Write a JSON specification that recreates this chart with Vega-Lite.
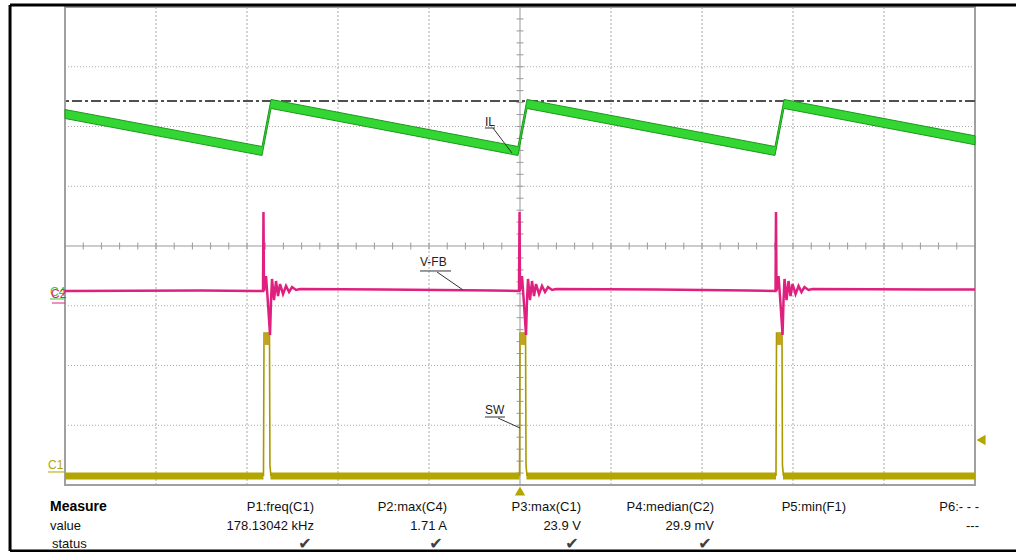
{
  "$schema": "https://vega.github.io/schema/vega-lite/v6.json",
  "width": 910,
  "height": 478,
  "autosize": {"type": "none"},
  "padding": {"left": 65, "top": 7, "right": 41, "bottom": 67},
  "background": "white",
  "config": {"view": {"stroke": "#a0a0a0", "strokeWidth": 2}, "font": "Liberation Sans"},
  "datasets": {
    "gridx": [{"x": -4}, {"x": -3}, {"x": -2}, {"x": -1}, {"x": 1}, {"x": 2}, {"x": 3}, {"x": 4}],
    "gridy": [{"y": -3}, {"y": -2}, {"y": -1}, {"y": 1}, {"y": 2}, {"y": 3}],
    "tickx": [{"x": -5}, {"x": -4.8}, {"x": -4.6}, {"x": -4.4}, {"x": -4.2}, {"x": -4}, {"x": -3.8}, {"x": -3.6}, {"x": -3.4}, {"x": -3.2}, {"x": -3}, {"x": -2.8}, {"x": -2.6}, {"x": -2.4}, {"x": -2.2}, {"x": -2}, {"x": -1.8}, {"x": -1.6}, {"x": -1.4}, {"x": -1.2}, {"x": -1}, {"x": -0.8}, {"x": -0.6}, {"x": -0.4}, {"x": -0.2}, {"x": 0.2}, {"x": 0.4}, {"x": 0.6}, {"x": 0.8}, {"x": 1}, {"x": 1.2}, {"x": 1.4}, {"x": 1.6}, {"x": 1.8}, {"x": 2}, {"x": 2.2}, {"x": 2.4}, {"x": 2.6}, {"x": 2.8}, {"x": 3}, {"x": 3.2}, {"x": 3.4}, {"x": 3.6}, {"x": 3.8}, {"x": 4}, {"x": 4.2}, {"x": 4.4}, {"x": 4.6}, {"x": 4.8}, {"x": 5}],
    "ticky": [{"y": -4}, {"y": -3.8}, {"y": -3.6}, {"y": -3.4}, {"y": -3.2}, {"y": -3}, {"y": -2.8}, {"y": -2.6}, {"y": -2.4}, {"y": -2.2}, {"y": -2}, {"y": -1.8}, {"y": -1.6}, {"y": -1.4}, {"y": -1.2}, {"y": -1}, {"y": -0.8}, {"y": -0.6}, {"y": -0.4}, {"y": -0.2}, {"y": 0.2}, {"y": 0.4}, {"y": 0.6}, {"y": 0.8}, {"y": 1}, {"y": 1.2}, {"y": 1.4}, {"y": 1.6}, {"y": 1.8}, {"y": 2}, {"y": 2.2}, {"y": 2.4}, {"y": 2.6}, {"y": 2.8}, {"y": 3}, {"y": 3.2}, {"y": 3.4}, {"y": 3.6}, {"y": 3.8}, {"y": 4}],
    "il": [
      {"x": -5, "lo": 2.134, "hi": 2.284},
      {"x": -2.835, "lo": 1.515, "hi": 1.665},
      {"x": -2.736, "lo": 2.302, "hi": 2.452},
      {"x": -0.022, "lo": 1.515, "hi": 1.665},
      {"x": 0.077, "lo": 2.302, "hi": 2.452},
      {"x": 2.802, "lo": 1.515, "hi": 1.665},
      {"x": 2.901, "lo": 2.302, "hi": 2.452},
      {"x": 5, "lo": 1.694, "hi": 1.844}
    ],
    "vfb": [
      {"x": -5, "y": -0.753}, {"x": -3.5, "y": -0.745},
      {"x": -2.824, "y": -0.753}, {"x": -2.819, "y": 0.569}, {"x": -2.813, "y": -0.753}, {"x": -2.791, "y": -0.502}, {"x": -2.769, "y": -0.971}, {"x": -2.747, "y": -1.49}, {"x": -2.736, "y": -0.904}, {"x": -2.725, "y": -0.552}, {"x": -2.703, "y": -0.904}, {"x": -2.681, "y": -0.586}, {"x": -2.659, "y": -0.837}, {"x": -2.637, "y": -0.636}, {"x": -2.604, "y": -0.803}, {"x": -2.571, "y": -0.669}, {"x": -2.538, "y": -0.77}, {"x": -2.505, "y": -0.686}, {"x": -2.461, "y": -0.736}, {"x": -2.417, "y": -0.72},
      {"x": -1.5, "y": -0.728}, {"x": -0.3, "y": -0.745},
      {"x": -0.011, "y": -0.753}, {"x": -0.005, "y": 0.569}, {"x": 0.0, "y": -0.753}, {"x": 0.022, "y": -0.502}, {"x": 0.044, "y": -0.971}, {"x": 0.066, "y": -1.49}, {"x": 0.077, "y": -0.904}, {"x": 0.088, "y": -0.552}, {"x": 0.11, "y": -0.904}, {"x": 0.132, "y": -0.586}, {"x": 0.154, "y": -0.837}, {"x": 0.176, "y": -0.636}, {"x": 0.209, "y": -0.803}, {"x": 0.242, "y": -0.669}, {"x": 0.275, "y": -0.77}, {"x": 0.308, "y": -0.686}, {"x": 0.352, "y": -0.736}, {"x": 0.396, "y": -0.72},
      {"x": 1.5, "y": -0.728}, {"x": 2.5, "y": -0.745},
      {"x": 2.808, "y": -0.753}, {"x": 2.813, "y": 0.569}, {"x": 2.819, "y": -0.753}, {"x": 2.841, "y": -0.502}, {"x": 2.863, "y": -0.971}, {"x": 2.885, "y": -1.49}, {"x": 2.896, "y": -0.904}, {"x": 2.907, "y": -0.552}, {"x": 2.929, "y": -0.904}, {"x": 2.951, "y": -0.586}, {"x": 2.973, "y": -0.837}, {"x": 2.995, "y": -0.636}, {"x": 3.028, "y": -0.803}, {"x": 3.061, "y": -0.669}, {"x": 3.093, "y": -0.77}, {"x": 3.126, "y": -0.686}, {"x": 3.17, "y": -0.736}, {"x": 3.214, "y": -0.72},
      {"x": 4.5, "y": -0.728}, {"x": 5, "y": -0.73}
    ],
    "swband": [
      {"x": -5, "y": -3.85, "seg": "a"}, {"x": -2.819, "y": -3.85, "seg": "a"},
      {"x": -2.742, "y": -3.85, "seg": "b"}, {"x": -0.005, "y": -3.85, "seg": "b"},
      {"x": 0.071, "y": -3.85, "seg": "c"}, {"x": 2.813, "y": -3.85, "seg": "c"},
      {"x": 2.89, "y": -3.85, "seg": "d"}, {"x": 5, "y": -3.85, "seg": "d"}
    ],
    "swpulse": [
      {"x": -2.819, "y": -3.85, "seg": "p1"}, {"x": -2.813, "y": -1.456, "seg": "p1"}, {"x": -2.753, "y": -1.456, "seg": "p1"}, {"x": -2.748, "y": -3.665, "seg": "p1"}, {"x": -2.737, "y": -3.85, "seg": "p1"},
      {"x": -0.005, "y": -3.85, "seg": "p2"}, {"x": 0.0, "y": -1.456, "seg": "p2"}, {"x": 0.061, "y": -1.456, "seg": "p2"}, {"x": 0.066, "y": -3.665, "seg": "p2"}, {"x": 0.077, "y": -3.85, "seg": "p2"},
      {"x": 2.813, "y": -3.85, "seg": "p3"}, {"x": 2.819, "y": -1.456, "seg": "p3"}, {"x": 2.879, "y": -1.456, "seg": "p3"}, {"x": 2.884, "y": -3.665, "seg": "p3"}, {"x": 2.895, "y": -3.85, "seg": "p3"}
    ],
    "swblk": [
      {"x": -2.808, "x2": -2.753, "y": -1.456, "y2": -1.656},
      {"x": 0.006, "x2": 0.061, "y": -1.456, "y2": -1.656},
      {"x": 2.824, "x2": 2.879, "y": -1.456, "y2": -1.656}
    ],
    "annlines": [
      {"x": -0.385, "y": 1.975, "x2": -0.275, "y2": 1.975, "c": "#333333"},
      {"x": -0.297, "y": 1.975, "x2": -0.088, "y2": 1.556, "c": "#333333"},
      {"x": -1.099, "y": -0.418, "x2": -0.758, "y2": -0.418, "c": "#333333"},
      {"x": -0.912, "y": -0.435, "x2": -0.626, "y2": -0.736, "c": "#333333"},
      {"x": -0.385, "y": -2.862, "x2": -0.165, "y2": -2.862, "c": "#333333"},
      {"x": -0.242, "y": -2.879, "x2": 0, "y2": -3.046, "c": "#333333"},
      {"x": -5.165, "y": -0.887, "x2": -5, "y2": -0.887, "c": "#33cc33"},
      {"x": -5.143, "y": -0.954, "x2": -5, "y2": -0.954, "c": "#e0207f"},
      {"x": -5.187, "y": -3.782, "x2": -5, "y2": -3.782, "c": "#b3a600"}
    ],
    "anntext": [
      {"x": -0.385, "y": 2.075, "t": "IL", "c": "#222222"},
      {"x": -1.099, "y": -0.268, "t": "V-FB", "c": "#222222"},
      {"x": -0.385, "y": -2.745, "t": "SW", "c": "#222222"},
      {"x": -5.165, "y": -0.77, "t": "C4", "c": "#33cc33"},
      {"x": -5.154, "y": -0.81, "t": "C2", "c": "#e0207f"},
      {"x": -5.187, "y": -3.665, "t": "C1", "c": "#b3a600"}
    ],
    "tri": [
      {"x": 0, "y": -4.1, "s": "triangle-up"},
      {"x": 5.066, "y": -3.247, "s": "triangle-left"}
    ],
    "frame": [
      {"x": -5.604, "y": 4.033, "x2": 5.451, "y2": 4.033},
      {"x": -5.604, "y": -5.105, "x2": 5.451, "y2": -5.105},
      {"x": -5.604, "y": 4.033, "x2": -5.604, "y2": -5.105}
    ],
    "tleft": [
      {"x": -5.165, "y": -4.686, "t": "value"},
      {"x": -5.143, "y": -4.987, "t": "status"}
    ],
    "tbold": [
      {"x": -5.165, "y": -4.368, "t": "Measure"}
    ],
    "tright": [
      {"x": -2.264, "y": -4.368, "t": "P1:freq(C1)"},
      {"x": -2.264, "y": -4.686, "t": "178.13042 kHz"},
      {"x": -0.802, "y": -4.368, "t": "P2:max(C4)"},
      {"x": -0.802, "y": -4.686, "t": "1.71 A"},
      {"x": 0.67, "y": -4.368, "t": "P3:max(C1)"},
      {"x": 0.67, "y": -4.686, "t": "23.9 V"},
      {"x": 2.132, "y": -4.368, "t": "P4:median(C2)"},
      {"x": 2.132, "y": -4.686, "t": "29.9 mV"},
      {"x": 3.582, "y": -4.368, "t": "P5:min(F1)"},
      {"x": 5.044, "y": -4.368, "t": "P6:- - -"},
      {"x": 5.044, "y": -4.686, "t": "---"}
    ],
    "checks": [
      {"x": -2.363, "y": -4.987, "t": "✔"},
      {"x": -0.923, "y": -4.987, "t": "✔"},
      {"x": 0.571, "y": -4.987, "t": "✔"},
      {"x": 2.033, "y": -4.987, "t": "✔"}
    ]
  },
  "layer": [
    {
      "data": {"name": "gridx"},
      "mark": {"type": "rule", "color": "#a8a8a8", "strokeWidth": 1, "strokeDash": [2, 2]},
      "encoding": {"x": {"field": "x", "type": "quantitative", "scale": {"domain": [-5, 5], "nice": false, "zero": false}, "axis": null}}
    },
    {
      "data": {"name": "gridy"},
      "mark": {"type": "rule", "color": "#a8a8a8", "strokeWidth": 1, "strokeDash": [1, 2]},
      "encoding": {"y": {"field": "y", "type": "quantitative", "scale": {"domain": [-4, 4], "nice": false, "zero": false}, "axis": null}}
    },
    {
      "data": {"values": [{"x": 0}]},
      "mark": {"type": "rule", "color": "#999999", "strokeWidth": 1},
      "encoding": {"x": {"field": "x", "type": "quantitative", "scale": {"domain": [-5, 5], "nice": false, "zero": false}, "axis": null}}
    },
    {
      "data": {"values": [{"y": 0}]},
      "mark": {"type": "rule", "color": "#999999", "strokeWidth": 1},
      "encoding": {"y": {"field": "y", "type": "quantitative", "scale": {"domain": [-4, 4], "nice": false, "zero": false}, "axis": null}}
    },
    {
      "data": {"name": "tickx"},
      "mark": {"type": "tick", "orient": "vertical", "color": "#999999", "size": 7, "thickness": 1, "opacity": 1},
      "encoding": {
        "x": {"field": "x", "type": "quantitative", "scale": {"domain": [-5, 5], "nice": false, "zero": false}, "axis": null},
        "y": {"datum": 0, "type": "quantitative", "scale": {"domain": [-4, 4], "nice": false, "zero": false}, "axis": null}
      }
    },
    {
      "data": {"name": "ticky"},
      "mark": {"type": "tick", "orient": "horizontal", "color": "#999999", "size": 7, "thickness": 1, "opacity": 1},
      "encoding": {
        "x": {"datum": 0, "type": "quantitative", "scale": {"domain": [-5, 5], "nice": false, "zero": false}, "axis": null},
        "y": {"field": "y", "type": "quantitative", "scale": {"domain": [-4, 4], "nice": false, "zero": false}, "axis": null}
      }
    },
    {
      "data": {"values": [{"y": 2.427}]},
      "mark": {"type": "rule", "color": "#505050", "strokeWidth": 2, "strokeDash": [10, 3, 3, 3]},
      "encoding": {"y": {"field": "y", "type": "quantitative", "scale": {"domain": [-4, 4], "nice": false, "zero": false}, "axis": null}}
    },
    {
      "data": {"name": "swband"},
      "mark": {"type": "line", "color": "#b3a600", "strokeWidth": 7, "strokeCap": "butt"},
      "encoding": {
        "x": {"field": "x", "type": "quantitative", "scale": {"domain": [-5, 5], "nice": false, "zero": false}, "axis": null},
        "y": {"field": "y", "type": "quantitative", "scale": {"domain": [-4, 4], "nice": false, "zero": false}, "axis": null},
        "detail": {"field": "seg", "type": "nominal"}
      }
    },
    {
      "data": {"name": "swpulse"},
      "mark": {"type": "line", "color": "#a89a00", "strokeWidth": 1.6},
      "encoding": {
        "x": {"field": "x", "type": "quantitative", "scale": {"domain": [-5, 5], "nice": false, "zero": false}, "axis": null},
        "y": {"field": "y", "type": "quantitative", "scale": {"domain": [-4, 4], "nice": false, "zero": false}, "axis": null},
        "detail": {"field": "seg", "type": "nominal"}
      }
    },
    {
      "data": {"name": "swblk"},
      "mark": {"type": "rect", "color": "#c4a21c"},
      "encoding": {
        "x": {"field": "x", "type": "quantitative", "scale": {"domain": [-5, 5], "nice": false, "zero": false}, "axis": null},
        "x2": {"field": "x2"},
        "y": {"field": "y", "type": "quantitative", "scale": {"domain": [-4, 4], "nice": false, "zero": false}, "axis": null},
        "y2": {"field": "y2"}
      }
    },
    {
      "data": {"name": "vfb"},
      "mark": {"type": "line", "color": "#e0207f", "strokeWidth": 2.5},
      "encoding": {
        "x": {"field": "x", "type": "quantitative", "scale": {"domain": [-5, 5], "nice": false, "zero": false}, "axis": null},
        "y": {"field": "y", "type": "quantitative", "scale": {"domain": [-4, 4], "nice": false, "zero": false}, "axis": null}
      }
    },
    {
      "data": {"name": "il"},
      "mark": {"type": "area", "color": "#33d633", "stroke": "#1a9a1a", "strokeWidth": 1, "opacity": 1},
      "encoding": {
        "x": {"field": "x", "type": "quantitative", "scale": {"domain": [-5, 5], "nice": false, "zero": false}, "axis": null},
        "y": {"field": "lo", "type": "quantitative", "scale": {"domain": [-4, 4], "nice": false, "zero": false}, "axis": null},
        "y2": {"field": "hi"}
      }
    },
    {
      "data": {"name": "annlines"},
      "mark": {"type": "rule", "strokeWidth": 1},
      "encoding": {
        "x": {"field": "x", "type": "quantitative", "scale": {"domain": [-5, 5], "nice": false, "zero": false}, "axis": null},
        "x2": {"field": "x2"},
        "y": {"field": "y", "type": "quantitative", "scale": {"domain": [-4, 4], "nice": false, "zero": false}, "axis": null},
        "y2": {"field": "y2"},
        "color": {"field": "c", "type": "nominal", "scale": null}
      }
    },
    {
      "data": {"name": "anntext"},
      "mark": {"type": "text", "align": "left", "baseline": "middle", "fontSize": 12, "font": "Liberation Sans"},
      "encoding": {
        "x": {"field": "x", "type": "quantitative", "scale": {"domain": [-5, 5], "nice": false, "zero": false}, "axis": null},
        "y": {"field": "y", "type": "quantitative", "scale": {"domain": [-4, 4], "nice": false, "zero": false}, "axis": null},
        "text": {"field": "t"},
        "color": {"field": "c", "type": "nominal", "scale": null}
      }
    },
    {
      "data": {"name": "tri"},
      "mark": {"type": "point", "filled": true, "color": "#b3a600", "size": 110, "opacity": 1},
      "encoding": {
        "x": {"field": "x", "type": "quantitative", "scale": {"domain": [-5, 5], "nice": false, "zero": false}, "axis": null},
        "y": {"field": "y", "type": "quantitative", "scale": {"domain": [-4, 4], "nice": false, "zero": false}, "axis": null},
        "shape": {"field": "s", "type": "nominal", "scale": null}
      }
    },
    {
      "data": {"name": "frame"},
      "mark": {"type": "rule", "color": "black", "strokeWidth": 3},
      "encoding": {
        "x": {"field": "x", "type": "quantitative", "scale": {"domain": [-5, 5], "nice": false, "zero": false}, "axis": null},
        "x2": {"field": "x2"},
        "y": {"field": "y", "type": "quantitative", "scale": {"domain": [-4, 4], "nice": false, "zero": false}, "axis": null},
        "y2": {"field": "y2"}
      }
    },
    {
      "data": {"name": "tleft"},
      "mark": {"type": "text", "align": "left", "baseline": "middle", "fontSize": 13, "color": "#111111"},
      "encoding": {
        "x": {"field": "x", "type": "quantitative", "scale": {"domain": [-5, 5], "nice": false, "zero": false}, "axis": null},
        "y": {"field": "y", "type": "quantitative", "scale": {"domain": [-4, 4], "nice": false, "zero": false}, "axis": null},
        "text": {"field": "t"}
      }
    },
    {
      "data": {"name": "tbold"},
      "mark": {"type": "text", "align": "left", "baseline": "middle", "fontSize": 14, "fontWeight": "bold", "color": "#000000"},
      "encoding": {
        "x": {"field": "x", "type": "quantitative", "scale": {"domain": [-5, 5], "nice": false, "zero": false}, "axis": null},
        "y": {"field": "y", "type": "quantitative", "scale": {"domain": [-4, 4], "nice": false, "zero": false}, "axis": null},
        "text": {"field": "t"}
      }
    },
    {
      "data": {"name": "tright"},
      "mark": {"type": "text", "align": "right", "baseline": "middle", "fontSize": 13, "color": "#111111"},
      "encoding": {
        "x": {"field": "x", "type": "quantitative", "scale": {"domain": [-5, 5], "nice": false, "zero": false}, "axis": null},
        "y": {"field": "y", "type": "quantitative", "scale": {"domain": [-4, 4], "nice": false, "zero": false}, "axis": null},
        "text": {"field": "t"}
      }
    },
    {
      "data": {"name": "checks"},
      "mark": {"type": "text", "align": "center", "baseline": "middle", "fontSize": 16, "font": "DejaVu Sans", "color": "#404040"},
      "encoding": {
        "x": {"field": "x", "type": "quantitative", "scale": {"domain": [-5, 5], "nice": false, "zero": false}, "axis": null},
        "y": {"field": "y", "type": "quantitative", "scale": {"domain": [-4, 4], "nice": false, "zero": false}, "axis": null},
        "text": {"field": "t"}
      }
    }
  ]
}
